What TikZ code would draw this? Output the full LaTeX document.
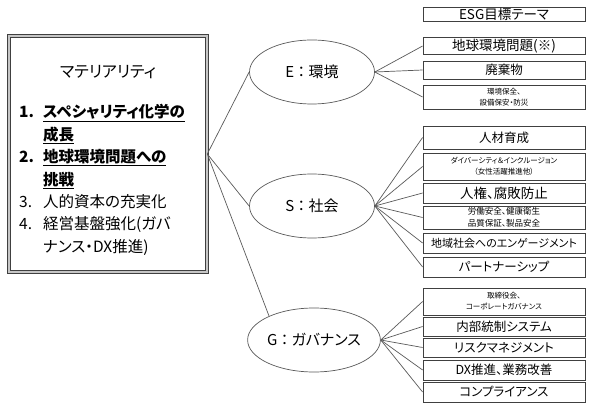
\documentclass[tikz,border=0pt]{standalone}
\usepackage{fontspec}
\setmainfont{Noto Sans CJK JP}[RawFeature=+palt]
\usetikzlibrary{shapes.geometric,positioning}

\begin{document}
\begin{tikzpicture}[x=1pt,y=-1pt,
    matbox/.style={draw=black!75, double=gray!45, double distance=2.2pt, line width=.6pt, minimum width=198pt, minimum height=236pt, inner sep=0},
    pillar/.style={ellipse, draw=black!65, line width=.7pt, minimum width=125pt, minimum height=64pt, inner sep=0, font=\fontsize{15}{17}\selectfont},
    theme/.style={draw=black!75, line width=.8pt, minimum width=162pt, inner sep=1pt, align=center, font=\fontsize{12.5}{14}\selectfont},
    tiny/.style={font=\fontsize{7.5}{11}\selectfont},
    link/.style={draw=black!65, line width=.7pt}
  ]
\useasboundingbox (0,0) rectangle (594,406);

% materiality
\node[matbox] (mat) at (108,154) {};
\node[font=\fontsize{16}{18}\selectfont] (mattitle) at (108,72) {マテリアリティ};
\node[anchor=north west, inner sep=0, font=\fontsize{15.5}{22.4}\selectfont] (matlist) at (19,102) {%
  \begin{tabular}{@{}l@{\hspace{9pt}}l@{}}
  \textbf{1.} & \textbf{\underline{スペシャリティ化学の}}\\
              & \textbf{\underline{成長}}\\
  \textbf{2.} & \textbf{\underline{地球環境問題への}}\\
              & \textbf{\underline{挑戦}}\\
  3. & 人的資本の充実化\\
  4. & 経営基盤強化(ガバ\\
     & ナンス・DX推進)
  \end{tabular}};

% E S G
\node[pillar] (env) at (312,72) {E\ ：\ 環境};
\node[pillar] (soc) at (312,206) {S\ ：\ 社会};
\node[pillar] (gov) at (314,340) {G\ ：\ ガバナンス};

% themes
\node[theme, minimum height=14pt, inner sep=0, font=\fontsize{13.5}{14}\selectfont] (head) at (504,14) {ESG目標テーマ};

\node[theme, minimum height=17pt, font=\fontsize{13.5}{14}\selectfont] (e1) at (504,46) {地球環境問題(※)};
\node[theme, minimum height=18pt] (e2) at (504,70) {廃棄物};
\node[theme, minimum height=24pt, tiny] (e3) at (504,97) {環境保全、\\設備保安・防災};

\node[theme, minimum height=23pt] (s1) at (504,137.5) {人材育成};
\node[theme, minimum height=27pt, tiny] (s2) at (504,166.5) {ダイバーシティ＆インクルージョン\\（女性活躍推進他）};
\node[theme, minimum height=20pt, font=\fontsize{13.5}{15}\selectfont] (s3) at (504,193) {人権、腐敗防止};
\node[theme, minimum height=23pt, font=\fontsize{8.5}{12}\selectfont] (s4) at (504,217.5) {労働安全、健康衛生\\品質保証、製品安全};
\node[theme, minimum height=20pt, font=\fontsize{11}{13}\selectfont] (s5) at (504,243) {地域社会へのエンゲージメント};
\node[theme, minimum height=20pt] (s6) at (504,267) {パートナーシップ};

\node[theme, minimum height=27pt, tiny] (g1) at (504,301.5) {取締役会、\\コーポレートガバナンス};
\node[theme, minimum height=19pt] (g2) at (504,326.5) {内部統制システム};
\node[theme, minimum height=19pt] (g3) at (504,347.5) {リスクマネジメント};
\node[theme, minimum height=20pt] (g4) at (504,370) {DX推進、業務改善};
\node[theme, minimum height=20pt] (g5) at (504,392) {コンプライアンス};

% connectors
\draw[link] (mat.east) -- (env.west);
\draw[link] (mat.east) -- (soc.west);
\draw[link] (mat.east) -- (gov.152);

\draw[link] (env.east) -- (e1.west);
\draw[link] (env.east) -- (e2.west);
\draw[link] (env.east) -- (e3.west);

\draw[link] (soc.east) -- (s1.west);
\draw[link] (soc.east) -- (s2.west);
\draw[link] (soc.east) -- (s3.west);
\draw[link] (soc.east) -- (s4.west);
\draw[link] (soc.east) -- (s5.west);
\draw[link] (soc.east) -- (s6.west);

\draw[link] (gov.east) -- (g1.west);
\draw[link] (gov.east) -- (g2.west);
\draw[link] (gov.east) -- (g3.west);
\draw[link] (gov.east) -- (g4.west);
\draw[link] (gov.east) -- (g5.west);
\end{tikzpicture}
\end{document}
